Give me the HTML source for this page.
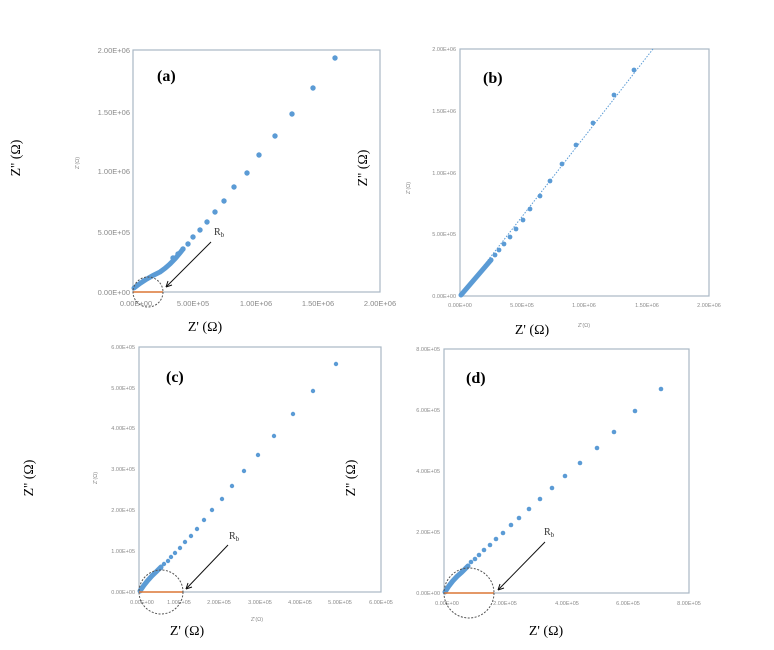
<!DOCTYPE html>
<html><head><meta charset="utf-8"><style>
html,body{margin:0;padding:0;background:#fff;}
svg{display:block;font-family:"Liberation Serif",serif;}
.t{font-family:"Liberation Sans",sans-serif;fill:#8a8a8a;}
</style></head><body>
<svg width="774" height="650" viewBox="0 0 774 650" xmlns="http://www.w3.org/2000/svg">
<g fill="none" stroke="#a9b8c4" stroke-width="1.2">
<rect x="133" y="50" width="247" height="242"/>
<rect x="460" y="49" width="249" height="247"/>
<rect x="139" y="347" width="242" height="245"/>
<rect x="444" y="349" width="245" height="244"/>
</g>
<!-- panel a ticks -->
<g class="t" font-size="7.5" text-anchor="end">
<text x="130" y="53">2.00E+06</text><text x="130" y="115">1.50E+06</text><text x="130" y="174">1.00E+06</text><text x="130" y="235">5.00E+05</text><text x="130" y="295">0.00E+00</text>
</g>
<g class="t" font-size="7.5" text-anchor="middle">
<text x="136" y="306">0.00E+00</text><text x="193" y="306">5.00E+05</text><text x="256" y="306">1.00E+06</text><text x="318" y="306">1.50E+06</text><text x="380" y="306">2.00E+06</text>
</g>
<text class="t" font-size="5.5" transform="translate(79,163) rotate(-90)" text-anchor="middle">Z'(Ω)</text>
<!-- panel b ticks -->
<g class="t" font-size="5.5" text-anchor="end">
<text x="456" y="51">2.00E+06</text><text x="456" y="113">1.50E+06</text><text x="456" y="175">1.00E+06</text><text x="456" y="236">5.00E+05</text><text x="456" y="298">0.00E+00</text>
</g>
<g class="t" font-size="5.5" text-anchor="middle">
<text x="460" y="307">0.00E+00</text><text x="522" y="307">5.00E+05</text><text x="584" y="307">1.00E+06</text><text x="647" y="307">1.50E+06</text><text x="709" y="307">2.00E+06</text>
</g>
<text class="t" font-size="5.5" x="584" y="327" text-anchor="middle">Z'(Ω)</text>
<text class="t" font-size="5.5" transform="translate(410,188) rotate(-90)" text-anchor="middle">Z'(Ω)</text>
<!-- panel c ticks -->
<g class="t" font-size="5.5" text-anchor="end">
<text x="135" y="349">6.00E+05</text><text x="135" y="390">5.00E+05</text><text x="135" y="430">4.00E+05</text><text x="135" y="471">3.00E+05</text><text x="135" y="512">2.00E+05</text><text x="135" y="553">1.00E+05</text><text x="135" y="594">0.00E+00</text>
</g>
<g class="t" font-size="5.5" text-anchor="middle">
<text x="142" y="604">0.00E+00</text><text x="179" y="604">1.00E+05</text><text x="219" y="604">2.00E+05</text><text x="260" y="604">3.00E+05</text><text x="300" y="604">4.00E+05</text><text x="340" y="604">5.00E+05</text><text x="381" y="604">6.00E+05</text>
</g>
<text class="t" font-size="5.5" x="257" y="621" text-anchor="middle">Z'(Ω)</text>
<text class="t" font-size="5.5" transform="translate(97,478) rotate(-90)" text-anchor="middle">Z'(Ω)</text>
<!-- panel d ticks -->
<g class="t" font-size="5.5" text-anchor="end">
<text x="440" y="351">8.00E+05</text><text x="440" y="412">6.00E+05</text><text x="440" y="473">4.00E+05</text><text x="440" y="534">2.00E+05</text><text x="440" y="595">0.00E+00</text>
</g>
<g class="t" font-size="5.5" text-anchor="middle">
<text x="447" y="605">0.00E+00</text><text x="505" y="605">2.00E+05</text><text x="567" y="605">4.00E+05</text><text x="628" y="605">6.00E+05</text><text x="689" y="605">8.00E+05</text>
</g>
<!-- dotted trend b -->
<line x1="460" y1="296" x2="653" y2="49" stroke="#5b9bd5" stroke-width="1" stroke-dasharray="1.5,1.5"/>
<!-- dense parts -->
<g fill="none" stroke="#5b9bd5" stroke-width="5" stroke-linecap="round" stroke-linejoin="round">
<path d="M134,288 Q145,279 160,272 Q172,264 183,249"/>
<path d="M461,295 L491,260"/>
<path d="M140,591 Q147,580 157,571 L161,567"/>
<path d="M445,592 Q452,580 462,572 L468,566"/>
</g>
<g fill="#5b9bd5">
<!-- a -->
<circle cx="335" cy="58" r="2.7"/><circle cx="313" cy="88" r="2.7"/><circle cx="292" cy="114" r="2.7"/><circle cx="275" cy="136" r="2.7"/><circle cx="259" cy="155" r="2.7"/><circle cx="247" cy="173" r="2.7"/><circle cx="234" cy="187" r="2.7"/><circle cx="224" cy="201" r="2.7"/><circle cx="215" cy="212" r="2.7"/><circle cx="207" cy="222" r="2.7"/><circle cx="200" cy="230" r="2.7"/><circle cx="193" cy="237" r="2.7"/><circle cx="188" cy="244" r="2.7"/><circle cx="183" cy="249" r="2.7"/><circle cx="178" cy="254" r="2.7"/><circle cx="173" cy="258" r="2.7"/>
<!-- b -->
<circle cx="634" cy="70" r="2.4"/><circle cx="614" cy="95" r="2.4"/><circle cx="593" cy="123" r="2.4"/><circle cx="576" cy="145" r="2.4"/><circle cx="562" cy="164" r="2.4"/><circle cx="550" cy="181" r="2.4"/><circle cx="540" cy="196" r="2.4"/><circle cx="530" cy="209" r="2.4"/><circle cx="523" cy="220" r="2.4"/><circle cx="516" cy="229" r="2.4"/><circle cx="510" cy="237" r="2.4"/><circle cx="504" cy="244" r="2.4"/><circle cx="499" cy="250" r="2.4"/><circle cx="495" cy="255" r="2.4"/><circle cx="491" cy="260" r="2.4"/>
<!-- c -->
<circle cx="336" cy="364" r="2.2"/><circle cx="313" cy="391" r="2.2"/><circle cx="293" cy="414" r="2.2"/><circle cx="274" cy="436" r="2.2"/><circle cx="258" cy="455" r="2.2"/><circle cx="244" cy="471" r="2.2"/><circle cx="232" cy="486" r="2.2"/><circle cx="222" cy="499" r="2.2"/><circle cx="212" cy="510" r="2.2"/><circle cx="204" cy="520" r="2.2"/><circle cx="197" cy="529" r="2.2"/><circle cx="191" cy="536" r="2.2"/><circle cx="185" cy="542" r="2.2"/><circle cx="180" cy="548" r="2.2"/><circle cx="175" cy="553" r="2.2"/><circle cx="171" cy="557" r="2.2"/><circle cx="168" cy="561" r="2.2"/><circle cx="164" cy="564" r="2.2"/><circle cx="161" cy="568" r="2.2"/>
<!-- d -->
<circle cx="661" cy="389" r="2.3"/><circle cx="635" cy="411" r="2.3"/><circle cx="614" cy="432" r="2.3"/><circle cx="597" cy="448" r="2.3"/><circle cx="580" cy="463" r="2.3"/><circle cx="565" cy="476" r="2.3"/><circle cx="552" cy="488" r="2.3"/><circle cx="540" cy="499" r="2.3"/><circle cx="529" cy="509" r="2.3"/><circle cx="519" cy="518" r="2.3"/><circle cx="511" cy="525" r="2.3"/><circle cx="503" cy="533" r="2.3"/><circle cx="496" cy="539" r="2.3"/><circle cx="490" cy="545" r="2.3"/><circle cx="484" cy="550" r="2.3"/><circle cx="479" cy="555" r="2.3"/><circle cx="475" cy="559" r="2.3"/><circle cx="471" cy="562" r="2.3"/><circle cx="468" cy="566" r="2.3"/>
</g>
<!-- Rb lines and circles -->
<g stroke="#e07b39" stroke-width="1.5">
<line x1="133" y1="292" x2="163" y2="292"/>
<line x1="139" y1="592" x2="183" y2="592"/>
<line x1="444" y1="593" x2="494" y2="593"/>
</g>
<g fill="none" stroke="#555" stroke-width="1" stroke-dasharray="2,1.5">
<circle cx="148" cy="292" r="15"/>
<circle cx="161" cy="592" r="22"/>
<circle cx="469" cy="593" r="25"/>
</g>
<g stroke="#111" stroke-width="1">
<line x1="211" y1="242" x2="166" y2="287"/><path d="M166,287 l2,-6 M166,287 l6,-2"/>
<line x1="228" y1="545" x2="186" y2="589"/><path d="M186,589 l2,-6 M186,589 l6,-2"/>
<line x1="545" y1="542" x2="498" y2="590"/><path d="M498,590 l2,-6 M498,590 l6,-2"/>
</g>
<g font-size="10" fill="#333">
<text x="214" y="235">R<tspan font-size="7" dy="2">b</tspan></text>
<text x="229" y="539">R<tspan font-size="7" dy="2">b</tspan></text>
<text x="544" y="535">R<tspan font-size="7" dy="2">b</tspan></text>
</g>
<g font-size="16" font-weight="bold" fill="#000">
<text x="157" y="81">(a)</text><text x="483" y="83">(b)</text><text x="166" y="382">(c)</text><text x="466" y="383">(d)</text>
</g>
<g font-size="14" fill="#000" text-anchor="middle">
<text x="205" y="331">Z' (Ω)</text>
<text x="532" y="334">Z' (Ω)</text>
<text x="187" y="635">Z' (Ω)</text>
<text x="546" y="635">Z' (Ω)</text>
<text transform="translate(20,158) rotate(-90)">Z'' (Ω)</text>
<text transform="translate(367,168) rotate(-90)">Z'' (Ω)</text>
<text transform="translate(33,478) rotate(-90)">Z'' (Ω)</text>
<text transform="translate(355,478) rotate(-90)">Z'' (Ω)</text>
</g>
</svg>
</body></html>
